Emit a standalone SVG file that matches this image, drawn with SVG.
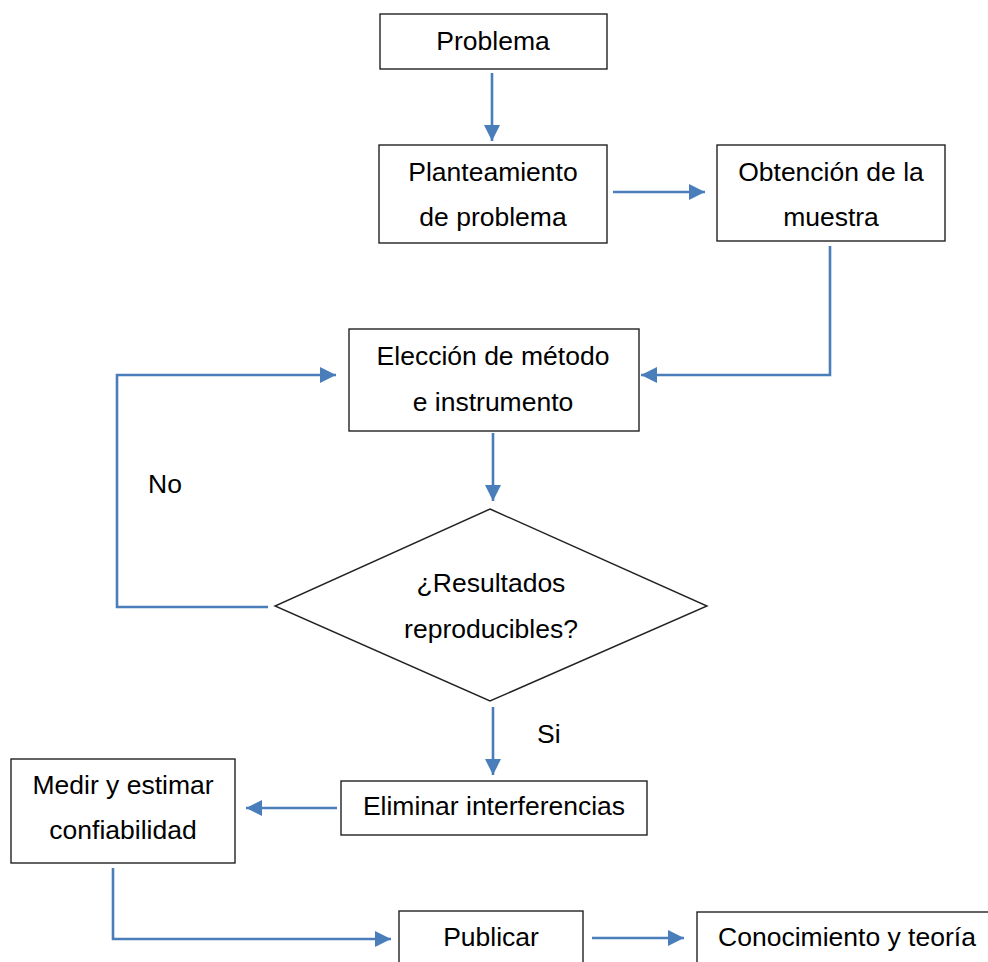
<svg xmlns="http://www.w3.org/2000/svg" width="988" height="962" viewBox="0 0 988 962">
<style>
.box{fill:#fff;stroke:#222;stroke-width:1.4}
.t{font-family:"Liberation Sans",Arial,sans-serif;font-size:26.5px;fill:#000;text-anchor:middle}
.l{font-family:"Liberation Sans",Arial,sans-serif;font-size:26.5px;fill:#000}
.c{fill:none;stroke:#4a7ebb;stroke-width:2.6}
</style>
<defs>
<marker id="ah" markerUnits="userSpaceOnUse" markerWidth="16" markerHeight="16" refX="16" refY="8" orient="auto">
<path d="M0,0 L16,8 L0,16 z" fill="#4a7ebb"/>
</marker>
</defs>
<rect width="988" height="962" fill="#fff"/>
<g id="connectors">
<path class="c" marker-end="url(#ah)" d="M492,73 V141"/>
<path class="c" marker-end="url(#ah)" d="M613,192 H705"/>
<path class="c" marker-end="url(#ah)" d="M830,246 V375 H641"/>
<path class="c" marker-end="url(#ah)" d="M493,433 V501"/>
<path class="c" marker-end="url(#ah)" d="M268,607 H117 V375 H336"/>
<path class="c" marker-end="url(#ah)" d="M493,707 V775"/>
<path class="c" marker-end="url(#ah)" d="M337,808 H246"/>
<path class="c" marker-end="url(#ah)" d="M113,868 V939 H391"/>
<path class="c" marker-end="url(#ah)" d="M592,938 H684"/>
</g>
<g id="problema">
<rect class="box" x="380" y="14" width="227" height="55"/>
<text class="t" x="493" y="50">Problema</text>
</g>
<g id="planteamiento">
<rect class="box" x="379" y="145" width="228" height="98"/>
<text class="t" x="493" y="181">Planteamiento</text>
<text class="t" x="493" y="226">de problema</text>
</g>
<g id="obtencion">
<rect class="box" x="717" y="145" width="228" height="96"/>
<text class="t" x="831" y="181">Obtención de la</text>
<text class="t" x="831" y="226">muestra</text>
</g>
<g id="eleccion">
<rect class="box" x="349" y="329" width="290" height="102"/>
<text class="t" x="493" y="365">Elección de método</text>
<text class="t" x="493" y="411">e instrumento</text>
</g>
<g id="decision">
<polygon class="box" points="490,509 707,606 490,701 275,606"/>
<text class="t" x="491" y="592">¿Resultados</text>
<text class="t" x="491" y="638">reproducibles?</text>
</g>
<g id="label-no">
<text class="l" x="148" y="493">No</text>
</g>
<g id="label-si">
<text class="l" x="537" y="743">Si</text>
</g>
<g id="eliminar">
<rect class="box" x="341" y="781" width="306" height="54"/>
<text class="t" x="494" y="815">Eliminar interferencias</text>
</g>
<g id="medir">
<rect class="box" x="11" y="759" width="224" height="104"/>
<text class="t" x="123" y="794">Medir y estimar</text>
<text class="t" x="123" y="839">confiabilidad</text>
</g>
<g id="publicar">
<rect class="box" x="399" y="911" width="184" height="70"/>
<text class="t" x="491" y="946">Publicar</text>
</g>
<g id="conocimiento">
<rect class="box" x="697" y="912" width="310" height="70"/>
<text class="t" x="847" y="946">Conocimiento y teoría</text>
</g>
</svg>
